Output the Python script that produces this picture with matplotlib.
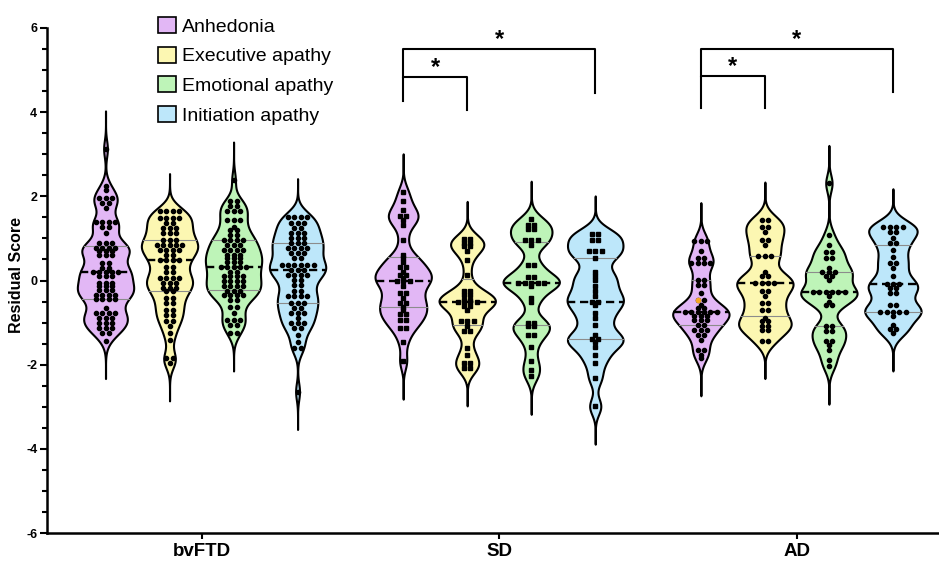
import numpy as np
import matplotlib
matplotlib.use('Agg')
import matplotlib.pyplot as plt
from matplotlib.patches import Patch

plt.rcParams['font.family'] = ['Liberation Sans', 'DejaVu Sans']
plt.rcParams['axes.unicode_minus'] = False

groups = ['bvFTD', 'SD', 'AD']
measures = ['Anhedonia', 'Executive apathy', 'Emotional apathy', 'Initiation apathy']
colors = ['#E2B7F5', '#FCF7B2', '#BEF4B8', '#BDE7FA']
y_ticks = [-6, -4, -2, 0, 2, 4, 6]
y_tick_labels = ['-6', '-4', '-2', '0', '2', '4', '6']

bvftd_anhedonia = [3.13, 2.25, 2.15, 1.96, 1.96, 1.96, 1.84, 1.84, 1.72, 1.38, 1.38, 1.38, 1.38,
                   1.26, 1.26, 1.14, 0.89, 0.89, 0.89, 0.77, 0.77, 0.77, 0.77, 0.69, 0.69, 0.69,
                   0.61, 0.61, 0.61, 0.41, 0.41, 0.29, 0.29, 0.21, 0.21, 0.21, 0.21, 0.21,
                   0.10, 0.10, 0.10, -0.06, -0.06, -0.06, -0.14, -0.14, -0.14, -0.22, -0.22, -0.22,
                   -0.34, -0.34, -0.34, -0.34, -0.44, -0.44, -0.44, -0.44, -0.66, -0.77, -0.77,
                   -0.77, -0.77, -0.89, -0.89, -0.89, -1.01, -1.01, -1.01, -1.13, -1.13, -1.13,
                   -1.24, -1.24, -1.43]
bvftd_executive = [1.64, 1.64, 1.64, 1.64, 1.48, 1.48, 1.48, 1.48, 1.36, 1.36, 1.24, 1.24, 1.24,
                   1.13, 1.13, 1.13, 0.97, 0.97, 0.97, 0.85, 0.85, 0.85, 0.85, 0.85, 0.73, 0.73,
                   0.73, 0.73, 0.61, 0.61, 0.49, 0.49, 0.49, 0.49, 0.33, 0.33, 0.21, 0.21,
                   0.06, 0.06, 0.06, 0.06, -0.06, -0.06, -0.06, -0.18, -0.18, -0.18, -0.26, -0.26,
                   -0.42, -0.42, -0.54, -0.54, -0.70, -0.70, -0.81, -0.81, -0.97, -0.97, -1.09,
                   -1.25, -1.41, -1.84, -1.84, -1.96]
bvftd_emotional = [2.39, 1.88, 1.88, 1.76, 1.76, 1.64, 1.64, 1.64, 1.44, 1.44, 1.44, 1.28, 1.20,
                   1.20, 1.09, 1.09, 0.97, 0.97, 0.97, 0.97, 0.85, 0.85, 0.85, 0.73, 0.73, 0.73,
                   0.73, 0.61, 0.61, 0.61, 0.53, 0.53, 0.53, 0.45, 0.45, 0.45, 0.33, 0.33, 0.33,
                   0.33, 0.33, 0.21, 0.21, 0.10, 0.10, 0.10, 0.10, -0.02, -0.02, -0.02, -0.02,
                   -0.14, -0.14, -0.14, -0.14, -0.26, -0.26, -0.26, -0.34, -0.34, -0.34, -0.34,
                   -0.46, -0.46, -0.62, -0.62, -0.77, -0.93, -0.93, -0.93, -1.05, -1.05, -1.25, -1.25]
bvftd_initiation = [1.52, 1.52, 1.52, 1.52, 1.36, 1.36, 1.36, 1.24, 1.24, 1.13, 1.13, 1.13, 1.01,
                    1.01, 1.01, 0.89, 0.89, 0.89, 0.77, 0.77, 0.77, 0.77, 0.65, 0.65, 0.65, 0.53,
                    0.53, 0.37, 0.37, 0.37, 0.37, 0.37, 0.37, 0.25, 0.25, 0.25, 0.14, 0.14, 0.14,
                    0.14, 0.02, 0.02, -0.10, -0.10, -0.24, -0.24, -0.38, -0.38, -0.38, -0.38,
                    -0.54, -0.54, -0.54, -0.66, -0.66, -0.77, -0.77, -0.77, -0.89, -1.01, -1.01,
                    -1.01, -1.13, -1.13, -1.29, -1.45, -1.61, -1.61, -2.64]

sd_anhedonia = [2.11, 1.88, 1.68, 1.54, 1.54, 1.44, 1.32, 0.97, 0.61, 0.53, 0.45, 0.33, 0.33, 0.21,
                0.14, 0.14, 0.06, -0.02, -0.02, -0.02, -0.14, -0.30, -0.30, -0.42, -0.54, -0.54,
                -0.62, -0.70, -0.79, -0.79, -0.93, -0.93, -1.13, -1.13, -1.45, -1.92]
sd_executive = [0.98, 0.98, 0.89, 0.89, 0.81, 0.81, 0.69, 0.49, 0.14, -0.26, -0.26, -0.34, -0.34,
                -0.46, -0.46, -0.52, -0.52, -0.52, -0.52, -0.60, -0.60, -0.70, -0.97, -0.97, -0.97,
                -1.09, -1.21, -1.21, -1.61, -1.76, -1.96, -1.96, -2.08, -2.08]
sd_emotional = [1.46, 1.32, 1.32, 1.22, 1.22, 0.97, 0.97, 0.97, 0.85, 0.37, 0.37, 0.08, 0.08, -0.06,
                -0.06, -0.06, -0.06, -0.06, -0.14, -0.42, -0.50, -1.01, -1.01, -1.09, -1.09, -1.29,
                -1.29, -1.57, -1.92, -2.12, -2.28]
sd_initiation = [1.11, 1.11, 0.97, 0.97, 0.69, 0.69, 0.69, 0.53, 0.21, 0.10, 0.02, -0.14, -0.26,
                 -0.38, -0.51, -0.51, -0.58, -0.77, -0.89, -1.05, -1.29, -1.39, -1.39, -1.45, -1.57,
                 -1.76, -1.96, -2.32, -2.99]

ad_anhedonia = [0.95, 0.95, 0.95, 0.69, 0.53, 0.53, 0.41, 0.41, 0.41, 0.41, 0.02, 0.02, -0.10, -0.10,
                -0.30, -0.46, -0.46, -0.58, -0.66, -0.66, -0.74, -0.74, -0.74, -0.74, -0.74, -0.74,
                -0.84, -0.84, -0.84, -0.93, -0.93, -0.93, -1.05, -1.05, -1.17, -1.17, -1.17, -1.29,
                -1.29, -1.41, -1.65, -1.65, -1.76, -1.84]
ad_executive = [1.44, 1.44, 1.27, 1.27, 1.16, 0.97, 0.97, 0.85, 0.58, 0.58, 0.58, 0.21, 0.10, 0.10,
                -0.07, -0.07, -0.07, -0.07, -0.26, -0.26, -0.36, -0.54, -0.54, -0.70, -0.70, -0.89,
                -0.97, -0.97, -1.09, -1.09, -1.17, -1.17, -1.43, -1.43]
ad_emotional = [2.31, 1.09, 0.85, 0.67, 0.67, 0.53, 0.53, 0.29, 0.21, 0.21, 0.21, 0.10, 0.10, 0.02,
                -0.28, -0.28, -0.28, -0.28, -0.28, -0.28, -0.38, -0.50, -0.58, -0.58, -1.09, -1.09,
                -1.21, -1.21, -1.43, -1.43, -1.53, -1.65, -1.88, -2.04]
ad_initiation = [1.28, 1.28, 1.28, 1.28, 1.16, 1.16, 1.01, 0.89, 0.89, 0.73, 0.57, 0.41, 0.41, 0.29,
                 0.10, -0.08, -0.08, -0.08, -0.18, -0.18, -0.30, -0.30, -0.58, -0.58, -0.74, -0.74,
                 -0.74, -0.74, -0.74, -0.84, -1.05, -1.15, -1.15, -1.25]

scores = {
    'bvFTD': [bvftd_anhedonia, bvftd_executive, bvftd_emotional, bvftd_initiation],
    'SD': [sd_anhedonia, sd_executive, sd_emotional, sd_initiation],
    'AD': [ad_anhedonia, ad_executive, ad_emotional, ad_initiation],
}
markers = {'bvFTD': 'o', 'SD': 's', 'AD': 'o'}
# one AD anhedonia dot is drawn orange in the original
orange_point = ('AD', 0, -0.46)

# group, measure a, measure b, bar height, leg end a, leg end b
brackets = [
    ('SD', 0, 1, 4.84, 4.27, 4.05),
    ('SD', 0, 3, 5.51, 4.84, 4.46),
    ('AD', 0, 1, 4.86, 4.09, 4.09),
    ('AD', 0, 3, 5.51, 4.86, 4.47),
]

GROUP_STEP = 4.65
HALF_WIDTH = 0.44
BANDWIDTH = 0.2
TAIL = 0.9


def position(group_index, measure_index):
    return group_index * GROUP_STEP + (measure_index - 1.5)


def density(values, y):
    v = np.asarray(values)
    d = np.exp(-0.5 * ((y[:, None] - v[None, :]) / BANDWIDTH) ** 2).sum(axis=1)
    return d


def swarm_offsets(values, row_gap=0.05, step=0.1):
    values = np.asarray(values)
    order = np.argsort(-values, kind='stable')
    offsets = np.zeros(len(values))
    rows, current = [], []
    for idx in order:
        if current and values[current[0]] - values[idx] > row_gap:
            rows.append(current)
            current = []
        current.append(idx)
    rows.append(current)
    for row in rows:
        n = len(row)
        for k, idx in enumerate(row):
            offsets[idx] = (k - (n - 1) / 2) * step
    return offsets


def draw_violin(ax, x, values, color, marker):
    values = np.asarray(values)
    y = np.linspace(values.min() - TAIL, values.max() + TAIL, 600)
    d = density(values, y)
    scale = HALF_WIDTH / d.max()
    w = d * scale
    ax.fill_betweenx(y, x - w, x + w, facecolor=color, edgecolor='black', lw=1.5, zorder=2)

    q1, med, q3 = np.percentile(values, [25, 50, 75])
    for q in (q1, q3):
        hw = density(values, np.array([q]))[0] * scale
        ax.plot([x - hw, x + hw], [q, q], color='#8c8c8c', lw=0.8, zorder=3)
    hw = density(values, np.array([med]))[0] * scale
    ax.plot([x - hw, x + hw], [med, med], color='black', lw=1.7, ls=(0, (3.5, 2)), zorder=3)

    offsets = swarm_offsets(values)
    ax.plot(x + offsets, values, ls='none', marker=marker, ms=3.0, color='black', zorder=4)
    return offsets


def main():
    fig = plt.figure(figsize=(9.39, 5.61), dpi=100)
    ax = fig.add_axes([47 / 939, 28 / 561, 892 / 939, 505 / 561])

    for gi, group in enumerate(groups):
        for mi, values in enumerate(scores[group]):
            x = position(gi, mi)
            offsets = draw_violin(ax, x, values, colors[mi], markers[group])
            if orange_point[0] == group and orange_point[1] == mi:
                idx = list(values).index(orange_point[2])
                ax.plot(x + offsets[idx], values[idx], ls='none', marker=markers[group], ms=3.0,
                        color='#F5A623', zorder=5)

    for group, a, b, h, ya, yb in brackets:
        gi = groups.index(group)
        xa, xb = position(gi, a), position(gi, b)
        ax.plot([xa, xa, xb, xb], [ya, h, h, yb], color='black', lw=1.5, clip_on=False, zorder=5)
        ax.text((xa + xb) / 2, h - 0.05, '*', ha='center', va='bottom', fontsize=17,
                fontweight='bold', clip_on=False)

    ax.set_xlim(-2.414, 11.52)
    ax.set_ylim(-6, 6)
    ax.set_xticks([gi * GROUP_STEP for gi in range(len(groups))])
    ax.set_xticklabels(groups, fontsize=13.5, fontweight='bold')
    ax.set_yticks(y_ticks)
    ax.set_yticklabels(y_tick_labels, fontsize=9, fontweight='bold')
    ax.set_yticks(np.arange(-6, 6.01, 0.5), minor=True)
    ax.tick_params(axis='y', which='major', length=5, width=1.5, pad=2)
    ax.tick_params(axis='y', which='minor', length=3.5, width=1.5)
    ax.tick_params(axis='x', which='major', length=4, width=1.5, pad=3)
    for side in ('top', 'right'):
        ax.spines[side].set_visible(False)
    for side in ('left', 'bottom'):
        ax.spines[side].set_linewidth(1.8)

    ax.set_ylabel('Residual Score', fontsize=11.5, fontweight='bold')
    ax.yaxis.set_label_coords(-0.026, 0.51)

    handles = [Patch(facecolor=c, edgecolor='black', lw=1.2) for c in colors]
    ax.legend(handles, measures, loc='upper left', bbox_to_anchor=(154.5 / 939, 1 - 13 / 561),
              bbox_transform=fig.transFigure, frameon=False, fontsize=14, handlelength=0.88,
              handleheight=0.88, handletextpad=0.32, labelspacing=0.57, borderaxespad=0,
              borderpad=0.2)

    fig.savefig('out.png', dpi=100)


if __name__ == '__main__':
    main()
